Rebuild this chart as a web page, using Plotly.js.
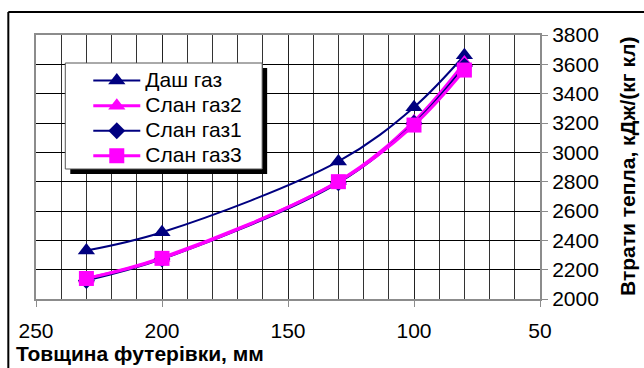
<!DOCTYPE html>
<html>
<head>
<meta charset="utf-8">
<script src="https://cdn.plot.ly/plotly-3.0.1.min.js"></script>
<style>
  html, body { margin: 0; padding: 0; background: #fff; }
  #chart { width: 644px; height: 368px; }
</style>
</head>
<body>
<div id="chart"></div>
<script>
// Lining thickness, mm
const thickness = [230, 200, 130, 100, 80];

// Heat losses, kJ/(kg clinker)
const dashGas   = [2330, 2455, 2938, 3308, 3662];
const slanGas2  = [2140, 2282, 2802, 3212, 3612];
const slanGas1  = [2126, 2272, 2792, 3198, 3588];
const slanGas3  = [2140, 2277, 2800, 3186, 3561];

const seriesNames = ['Даш газ', 'Слан газ2', 'Слан газ1', 'Слан газ3'];

const xTitle = 'Товщина футерівки, мм';
const yTitle = 'Втрати тепла, кДж/(кг кл)';

const NAVY = '#000080';
const MAGENTA = '#FF00FF';
const FONT = 'Arial, "Liberation Sans", sans-serif';

// legend rows are kept compact: the row pitch follows legend.font.size,
// the entry text itself is drawn larger
const legendLabel = s => '<span style="font-size:21px">' + s + '</span>';

function series(name, y, color, width, symbol, size) {
  return {
    type: 'scatter', mode: 'lines+markers', name: legendLabel(name),
    x: thickness, y: y,
    line: { color: color, width: width, shape: 'spline', smoothing: 1 },
    marker: { color: color, symbol: symbol, size: size, line: { width: 0 } },
    cliponaxis: false
  };
}

const data = [
  series(seriesNames[0], dashGas, NAVY, 2, 'triangle-up', 15),
  series(seriesNames[1], slanGas2, MAGENTA, 3, 'triangle-up', 15),
  series(seriesNames[2], slanGas1, NAVY, 2, 'diamond', 13),
  series(seriesNames[3], slanGas3, MAGENTA, 3, 'square', 15)
];

// plot area in pixels: x 35.7..540, y 35..299
const PL = 35.7, PR = 540, PT = 35, PB = 299;
const px = v => (v - PL) / (PR - PL);
const py = v => (PB - v) / (PB - PT);

// legend frame in pixels
const LG = { l: 65, t: 63, r: 262, b: 169, shadow: 5 };

const layout = {
  width: 644, height: 368,
  margin: { l: PL, r: 644 - PR, t: PT, b: 368 - PB, pad: 0 },
  paper_bgcolor: '#ffffff',
  plot_bgcolor: '#ffffff',
  showlegend: true,
  font: { family: FONT, color: '#000', size: 20 },
  xaxis: {
    range: [250, 50], dtick: 50, tick0: 50,
    showgrid: true, gridcolor: '#222', gridwidth: 1,
    minor: { dtick: 10, showgrid: true, gridcolor: '#333', gridwidth: 1 },
    showline: true, linecolor: '#8c8c8c', linewidth: 2, mirror: true,
    ticks: 'outside', ticklen: 6, tickcolor: '#8c8c8c', tickwidth: 1,
    ticklabelstandoff: 6,
    tickfont: { family: FONT, size: 21, color: '#000' },
    zeroline: false, fixedrange: true
  },
  yaxis: {
    range: [2000, 3800], dtick: 200, side: 'right',
    showgrid: true, gridcolor: '#000', gridwidth: 1,
    showline: true, linecolor: '#8c8c8c', linewidth: 2, mirror: true,
    ticks: 'outside', ticklen: 6, tickcolor: '#8c8c8c', tickwidth: 1,
    tickfont: { family: FONT, size: 21, color: '#000' },
    zeroline: false, fixedrange: true
  },
  legend: {
    x: px(LG.l), y: py(LG.t), xanchor: 'left', yanchor: 'top',
    bgcolor: 'rgba(0,0,0,0)', borderwidth: 0,
    font: { family: FONT, size: 17, color: '#000' },
    tracegroupgap: 0, itemwidth: 47, indentation: 23
  },
  annotations: [
    {
      text: xTitle, xref: 'paper', yref: 'paper',
      x: px(14), y: py(353), xanchor: 'left', yanchor: 'middle',
      showarrow: false, font: { family: FONT, size: 21, color: '#000', weight: 'bold' }
    },
    {
      text: yTitle, xref: 'paper', yref: 'paper', textangle: -90,
      x: px(627), y: py(166), xanchor: 'center', yanchor: 'middle',
      showarrow: false, font: { family: FONT, size: 21, color: '#000', weight: 'bold' }
    }
  ],
  shapes: [
    // legend drop shadow
    { type: 'rect', xref: 'paper', yref: 'paper', layer: 'above',
      x0: px(LG.l + LG.shadow), x1: px(LG.r + LG.shadow),
      y0: py(LG.b + LG.shadow), y1: py(LG.t + LG.shadow),
      fillcolor: '#000', line: { width: 0 } },
    // legend box
    { type: 'rect', xref: 'paper', yref: 'paper', layer: 'above',
      x0: px(LG.l), x1: px(LG.r), y0: py(LG.b), y1: py(LG.t),
      fillcolor: '#fff', line: { color: '#555', width: 1 } },
    // outer chart frame (top and left edges)
    { type: 'line', xref: 'paper', yref: 'paper', layer: 'above',
      x0: px(8), x1: px(660), y0: py(12), y1: py(12),
      line: { color: '#000', width: 2 } },
    { type: 'line', xref: 'paper', yref: 'paper', layer: 'above',
      x0: px(8), x1: px(8), y0: py(12), y1: py(380),
      line: { color: '#000', width: 2 } }
  ]
};

Plotly.newPlot('chart', data, layout, { staticPlot: true, displayModeBar: false });
</script>
</body>
</html>
